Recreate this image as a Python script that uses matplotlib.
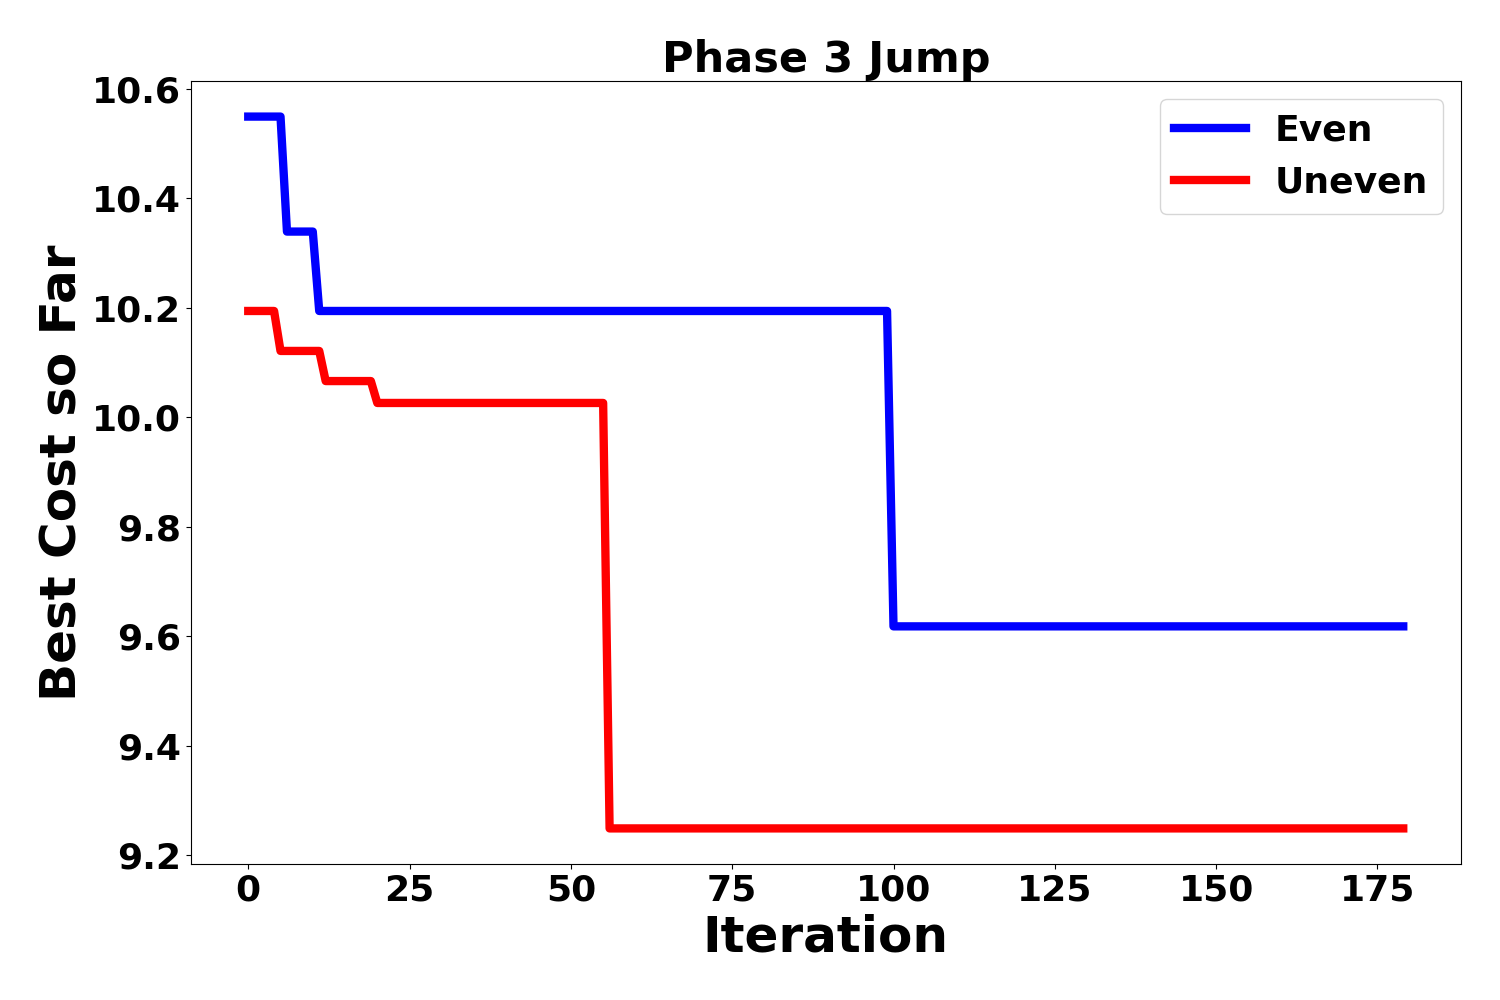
import matplotlib
matplotlib.use("Agg")
import matplotlib.pyplot as plt
import numpy as np

n_iter = 180
# (start index, value) segments for step-like best-cost curves
even_breaks = [0, 6, 11, 100]
even_values = [10.549, 10.339, 10.194, 9.618]
uneven_breaks = [0, 5, 12, 20, 56]
uneven_values = [10.194, 10.121, 10.066, 10.026, 9.249]

def expand(breaks, values, n):
    out = np.empty(n)
    for i, (b, v) in enumerate(zip(breaks, values)):
        e = breaks[i + 1] if i + 1 < len(breaks) else n
        out[b:e] = v
    return out

x = np.arange(n_iter)
even = expand(even_breaks, even_values, n_iter)
uneven = expand(uneven_breaks, uneven_values, n_iter)

plt.rcParams['font.weight'] = 'bold'
fig, ax = plt.subplots(figsize=(15, 10), dpi=100)
fig.subplots_adjust(left=0.127, right=0.974, top=0.919, bottom=0.136)
ax.plot(x, even, color='blue', linewidth=6, label='Even')
ax.plot(x, uneven, color='red', linewidth=6, label='Uneven')
ax.set_title('Phase 3 Jump', fontsize=31, fontweight='bold')
ax.set_xlabel('Iteration', fontsize=36, fontweight='bold')
ax.set_ylabel('Best Cost so Far', fontsize=36, fontweight='bold')
ax.tick_params(labelsize=26)
for lab in ax.get_xticklabels() + ax.get_yticklabels():
    lab.set_fontweight('bold')
ax.legend(prop={'weight': 'bold', 'size': 26})
fig.savefig('out.png')
